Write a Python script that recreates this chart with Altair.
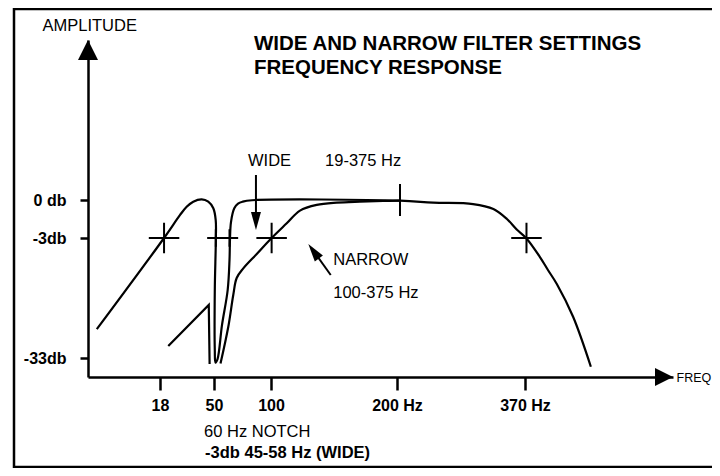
import altair as alt
import pandas as pd

FONT = "Liberation Sans"

# ---- schematic (non-uniform) axis anchors, as drawn in the figure ----
freq_anchor_hz = [0, 18, 50, 100, 200, 370, 570]
freq_anchor_px = [0, 72, 126, 183, 309, 437, 585]
db_anchor = [-38, -33, -3, 0, 12]
db_anchor_px = [337, 318, 198, 160, 0]

# ---- tick values / labels ----
x_tick_values = [18, 50, 100, 200, 370]
x_tick_labels = ["18", "50", "100", "200 Hz", "370 Hz"]
y_tick_values = [0, -3, -33]
y_tick_labels = ["0 db", "-3db", "-33db"]

# ---- WIDE filter response (Hz, dB) ----
wide_hz = [2.2, 20.4, 29.9, 33.8, 37.7, 42.7, 46.6, 49.6, 51.5, 51.6, 50.7, 50.7,
           51.3, 53.1, 57.0, 62.0, 63.6, 64.0, 64.9, 67.8, 71.1, 75.2, 83.3, 204,
           248, 301, 328, 346, 359, 372, 390, 401, 413, 435, 459]
wide_db = [-25.8, -3.0, -1.18, -0.53, -0.13, 0.05, -0.13, -0.65, -1.58, -3.5, -16, -31,
           -34.2, -33.3, -24.8, -16, -8.5, -3.5, -1.74, -0.65, -0.28, -0.13, -0.02, -0.05,
           -0.21, -0.32, -0.71, -1.5, -2.33, -3.1, -7.7, -11, -14.5, -22.7, -35.3]

# ---- NARROW filter response, low part (before notch) ----
narrow_low_hz = [22.9, 46.9, 47.4]
narrow_low_db = [-30, -19.75, -34.6]

# ---- NARROW filter response, after notch ----
narrow_hz = [55.7, 62.5, 66.9, 69.9, 75.7, 87.5, 100.5, 112.5, 123, 136.3, 152.1,
             170.6, 189.1, 204]
narrow_db = [-34.45, -25.25, -17.25, -13, -10.6, -7, -3, -1.84, -0.84, -0.39, -0.21,
             -0.13, -0.08, -0.05]

# ---- cross markers ----
cross_hz = [20.4, 100.5, 372]
cross_db = [-3, -3, -3]
flat_mark_hz = [204]
flat_mark_db = [0]
notch_cross_hz = [51.6, 63.6]
notch_cross_db = [-3, -3]

# ---- pointer arrows (shaft start, shaft end, tip) ----
wide_arrow = {"hz": [86.8, 86.8], "db": [1.875, -1.58], "tip_hz": 86.8, "tip_db": -2.37}
narrow_arrow = {"hz": [147.4, 135.7], "db": [-12.25, -7.1], "tip_hz": 129.6, "tip_db": -4.5}

# ---- annotations ----
note_text = ["WIDE", "19-375 Hz", "NARROW", "100-375 Hz", "60 Hz NOTCH"]
note_hz = [79.8, 142.9, 149.4, 149.4, 44.1]
note_db = [2.93, 2.93, -8.5, -16.7, -52.5]
bold_note_text = ["-3db 45-58 Hz (WIDE)"]
bold_note_hz = [44.7]
bold_note_db = [-58.1]
title_text = ["WIDE AND NARROW FILTER SETTINGS", "FREQUENCY RESPONSE"]
title_hz = [85.1, 85.1]
title_db = [11.7, 9.9]


def label_expr(values, labels):
    expr = "''"
    for v, l in reversed(list(zip(values, labels))):
        expr = f"datum.value == {v} ? '{l}' : {expr}"
    return expr


xscale = alt.Scale(type="linear", domain=freq_anchor_hz, range=freq_anchor_px,
                   nice=False, zero=False, clamp=False)
yscale = alt.Scale(type="linear", domain=db_anchor, range=db_anchor_px,
                   nice=False, zero=False, clamp=False)

xaxis = alt.Axis(values=x_tick_values, labelExpr=label_expr(x_tick_values, x_tick_labels),
                 title="FREQ", titleX=588, titleY=0, titleAlign="left",
                 titleBaseline="middle", titleFont=FONT, titleFontSize=12.5,
                 titleFontWeight="normal", titleColor="black",
                 domainColor="black", domainWidth=2.5, tickColor="black", tickWidth=2.5,
                 tickSize=13, labelFont=FONT, labelFontSize=16, labelFontWeight="bold",
                 labelColor="black", labelPadding=7, labelOverlap=False, labelFlush=False,
                 grid=False)
yaxis = alt.Axis(values=y_tick_values, labelExpr=label_expr(y_tick_values, y_tick_labels),
                 title="AMPLITUDE", titleAngle=0, titleX=-46, titleY=-15,
                 titleAlign="left", titleBaseline="middle", titleFont=FONT,
                 titleFontSize=16.5, titleFontWeight="normal", titleColor="black",
                 domainColor="black", domainWidth=2.5, tickColor="black", tickWidth=2.5,
                 tickSize=8, labelFont=FONT, labelFontSize=16, labelFontWeight="bold",
                 labelColor="black", labelPadding=14, labelOverlap=False, labelFlush=False,
                 grid=False)


def X(field="hz"):
    return alt.X(f"{field}:Q", scale=xscale, axis=xaxis)


def Y(field="db"):
    return alt.Y(f"{field}:Q", scale=yscale, axis=yaxis)


def curve_df(hz, db):
    return pd.DataFrame({"hz": hz, "db": db, "i": list(range(len(hz)))})


# border frame
border = alt.Chart(pd.DataFrame({"a": [0]})).mark_rect(
    fill="transparent", stroke="black", strokeWidth=2.5
).encode(x=alt.value(-74), x2=alt.value(640), y=alt.value(-31), y2=alt.value(427))

wide_line = alt.Chart(curve_df(wide_hz, wide_db)).mark_line(
    color="black", strokeWidth=2.2, interpolate="catmull-rom", strokeJoin="round"
).encode(x=X(), y=Y(), order="i:Q")

narrow_low_line = alt.Chart(curve_df(narrow_low_hz, narrow_low_db)).mark_line(
    color="black", strokeWidth=2.2, interpolate="linear", strokeJoin="miter"
).encode(x=X(), y=Y(), order="i:Q")

narrow_line = alt.Chart(curve_df(narrow_hz, narrow_db)).mark_line(
    color="black", strokeWidth=2.2, interpolate="catmull-rom", strokeJoin="round"
).encode(x=X(), y=Y(), order="i:Q")

CROSS = "M-1,0L1,0M0,-1L0,1"
VBAR = "M0,-1L0,1"
crosses = alt.Chart(pd.DataFrame({"hz": cross_hz, "db": cross_db})).mark_point(
    shape=CROSS, size=930, filled=False, stroke="black", strokeWidth=2, opacity=1
).encode(x=X(), y=Y())
flat_mark = alt.Chart(pd.DataFrame({"hz": flat_mark_hz, "db": flat_mark_db})).mark_point(
    shape=VBAR, size=1024, filled=False, stroke="black", strokeWidth=2, opacity=1
).encode(x=X(), y=Y())
notch_crosses = alt.Chart(pd.DataFrame({"hz": notch_cross_hz, "db": notch_cross_db})).mark_point(
    shape=CROSS, size=300, filled=False, stroke="black", strokeWidth=2, opacity=1
).encode(x=X(), y=Y())

# axis arrow heads at the ends of the axes
AXIS_HEAD = "M0,0L-1,2L1,2Z"
y_head = alt.Chart(pd.DataFrame({"hz": [freq_anchor_hz[0]], "db": [db_anchor[-1]]})).mark_point(
    shape=AXIS_HEAD, size=400, filled=True, color="black", opacity=1, angle=0
).encode(x=X(), y=Y())
x_head = alt.Chart(pd.DataFrame({"hz": [freq_anchor_hz[-1]], "db": [db_anchor[0]]})).mark_point(
    shape=AXIS_HEAD, size=324, filled=True, color="black", opacity=1, angle=90
).encode(x=X(), y=Y())

# pointer arrows
PTR_HEAD = "M0,0L-1,3.6L1,3.6Z"


def pointer(a, angle):
    shaft = alt.Chart(pd.DataFrame({"hz": [a["hz"][0]], "db": [a["db"][0]],
                                    "hz2": [a["hz"][1]], "db2": [a["db"][1]]})).mark_rule(
        color="black", strokeWidth=2
    ).encode(x=X(), y=Y(), x2="hz2:Q", y2="db2:Q")
    head = alt.Chart(pd.DataFrame({"hz": [a["tip_hz"]], "db": [a["tip_db"]]})).mark_point(
        shape=PTR_HEAD, size=100, filled=True, color="black", opacity=1, angle=angle
    ).encode(x=X(), y=Y())
    return shaft + head


wide_ptr = pointer(wide_arrow, 180)
narrow_ptr = pointer(narrow_arrow, 324)

notes = alt.Chart(pd.DataFrame({"hz": note_hz, "db": note_db, "t": note_text})).mark_text(
    align="left", baseline="middle", font=FONT, fontSize=16.5, color="black"
).encode(x=X(), y=Y(), text="t:N")
bold_notes = alt.Chart(pd.DataFrame({"hz": bold_note_hz, "db": bold_note_db,
                                     "t": bold_note_text})).mark_text(
    align="left", baseline="middle", font=FONT, fontSize=16.5, fontWeight="bold", color="black"
).encode(x=X(), y=Y(), text="t:N")
title = alt.Chart(pd.DataFrame({"hz": title_hz, "db": title_db, "t": title_text})).mark_text(
    align="left", baseline="middle", font=FONT, fontSize=20.5, fontWeight="bold", color="black"
).encode(x=X(), y=Y(), text="t:N")

chart = alt.layer(
    border, wide_line, narrow_low_line, narrow_line, crosses, flat_mark, notch_crosses,
    y_head, x_head, wide_ptr, narrow_ptr, notes, bold_notes, title
).properties(
    width=585, height=337,
    padding={"left": 80, "top": 32, "right": 39, "bottom": 91},
    autosize=alt.AutoSizeParams(type="none"),
    background="white",
).configure_view(stroke=None)

chart.save("out.html", embed_options={"renderer": "svg", "actions": False})
